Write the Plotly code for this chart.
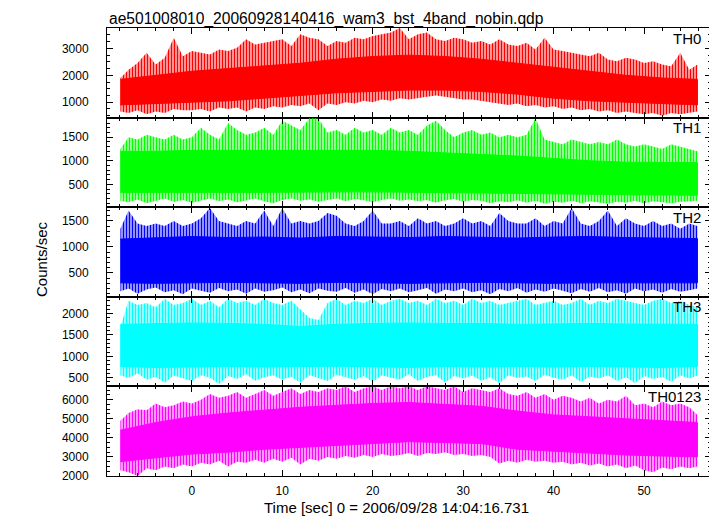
import plotly.graph_objects as go
from plotly.subplots import make_subplots

# ---------------- data ----------------
T_OUT = [-7.9] + list(range(-7, 56)) + [55.9]          # 1-s samples
T_CORE = [-7.9, -4, 0, 4, 8, 12, 16, 20, 24, 28, 32, 36, 40, 44, 48, 52, 55.9]

TH0_HI = [1900, 2210, 2460, 2840, 2400, 2650, 3400, 2710,
          2900, 2840, 2775, 2960, 2900, 3025, 3340, 3150, 3210, 3275,
          3340, 3090, 3525, 3400, 3340, 3090, 3275, 3210, 3400, 3340,
          3460, 3525, 3590, 3760, 3340, 3525, 3590, 3340, 3275, 3400,
          3340, 3210, 3275, 3150, 3340, 3150, 3090, 3210, 2960, 3400,
          2960, 2900, 2840, 2775, 2710, 2840, 2590, 2525, 2650, 2590,
          2460, 2525, 2400, 2340, 2840, 2210, 2400]
TH0_LO = [650, 600, 700, 550, 650, 600, 750, 700,
          700, 750, 650, 800, 750, 800, 650, 800, 750, 850,
          800, 900, 850, 950, 700, 950, 900, 1000, 950, 1050,
          1000, 1100, 1050, 1150, 1100, 1150, 1200, 1250, 1200, 1150,
          1100, 1100, 1050, 1000, 950, 900, 950, 850, 900, 800,
          850, 750, 800, 700, 750, 650, 700, 600, 650, 600,
          550, 600, 500, 600, 550, 600, 650]
TH0_CORE_HI = [1850, 2000, 2150, 2250, 2350, 2450, 2600, 2700, 2750, 2700, 2600, 2450, 2300, 2150, 2000, 1900, 1850]
TH0_CORE_LO = [900, 950, 1000, 1050, 1150, 1250, 1350, 1400, 1450, 1450, 1400, 1300, 1150, 1050, 1000, 950, 900]

TH1_HI = [1250, 1500, 1450, 1550, 1500, 1450, 1550, 1450,
          1500, 1700, 1550, 1450, 1800, 1650, 1550, 1600, 1700, 1550,
          1850, 1750, 1650, 1900, 1900, 1600, 1650, 1550, 1700, 1600,
          1650, 1550, 1700, 1600, 1650, 1550, 1750, 1850, 1650, 1500,
          1600, 1650, 1550, 1600, 1500, 1550, 1500, 1550, 1900, 1450,
          1400, 1350, 1450, 1400, 1350, 1400, 1350, 1450, 1350, 1300,
          1350, 1300, 1250, 1350, 1300, 1250, 1200]
TH1_LO = [150, 120, 180, 100, 150, 200, 130, 170,
          110, 160, 200, 140, 180, 120, 160, 200, 140, 100,
          170, 200, 150, 180, 130, 170, 200, 140, 190, 160,
          120, 170, 200, 150, 180, 140, 170, 110, 160, 190,
          130, 170, 150, 100, 140, 120, 160, 110, 150, 90,
          130, 110, 150, 100, 140, 120, 90, 130, 110, 150,
          100, 140, 120, 100, 130, 140, 150]
TH1_CORE_HI = [1200, 1200, 1220, 1220, 1220, 1230, 1230, 1220, 1200, 1170, 1140, 1100, 1050, 1000, 970, 960, 960]
TH1_CORE_LO = [330, 330, 330, 330, 330, 330, 340, 340, 340, 330, 320, 310, 300, 290, 280, 270, 270]

TH2_HI = [1350, 1700, 1450, 1400, 1450, 1400, 1500, 1400,
          1450, 1550, 1750, 1500, 1450, 1400, 1500, 1450, 1700, 1400,
          1750, 1450, 1500, 1450, 1500, 1650, 1600, 1450, 1400, 1500,
          1700, 1450, 1450, 1500, 1400, 1550, 1450, 1500, 1400, 1450,
          1550, 1450, 1500, 1400, 1650, 1500, 1450, 1450, 1550, 1400,
          1500, 1450, 1750, 1450, 1400, 1500, 1700, 1400, 1550, 1450,
          1400, 1500, 1400, 1450, 1350, 1450, 1400]
TH2_LO = [150, 200, 100, 180, 220, 130, 170, 90,
          200, 160, 120, 210, 150, 180, 100, 200, 140, 170,
          220, 130, 180, 110, 200, 160, 140, 210, 120, 180,
          90, 190, 150, 200, 130, 170, 210, 100, 180, 150,
          200, 130, 170, 90, 190, 150, 210, 120, 180, 140,
          200, 160, 110, 190, 140, 210, 130, 170, 100, 200,
          150, 180, 120, 190, 140, 170, 200]
TH2_CORE_HI = [1150, 1180, 1200, 1180, 1190, 1170, 1200, 1190, 1180, 1200, 1180, 1170, 1190, 1200, 1180, 1170, 1160]
TH2_CORE_LO = [310, 300, 310, 320, 310, 300, 320, 310, 300, 310, 320, 310, 300, 310, 320, 310, 310]

TH3_HI = [1700, 2300, 2200, 2250, 2150, 2350, 2200, 2250,
          2350, 2200, 2300, 2150, 2350, 2250, 2300, 2200, 2350, 2250,
          2200, 2300, 2100, 1900, 1850, 2250, 2350, 2200, 2300, 2250,
          2350, 2200, 2300, 2350, 2250, 2300, 2200, 2350, 2250, 2300,
          2200, 2350, 2250, 2300, 2200, 2250, 2300, 2350, 2200, 2250,
          2300, 2200, 2250, 2350, 2200, 2300, 2250, 2350, 2300, 2250,
          2200, 2300, 2350, 2250, 2300, 2200, 2150]
TH3_LO = [550, 500, 600, 450, 520, 380, 550, 480,
          420, 560, 500, 350, 540, 470, 580, 430, 510, 560,
          450, 520, 380, 560, 490, 420, 570, 510, 450, 540,
          400, 560, 500, 460, 580, 420, 520, 560, 390, 540,
          480, 550, 430, 510, 370, 560, 490, 530, 420, 570,
          500, 450, 560, 400, 530, 480, 560, 420, 510, 370,
          540, 470, 520, 400, 560, 480, 550]
TH3_CORE_HI = [1750, 1770, 1780, 1770, 1750, 1700, 1750, 1770, 1780, 1770, 1770, 1750, 1760, 1770, 1760, 1750, 1750]
TH3_CORE_LO = [760, 740, 750, 760, 750, 760, 770, 750, 740, 760, 750, 760, 750, 760, 750, 740, 760]

TH0123_HI = [4900, 5300, 5500, 5450, 5800, 5600, 5700, 5900,
             5800, 6000, 6300, 6100, 6200, 6400, 6100, 6300, 6500, 6200,
             6400, 6600, 6300, 6500, 6400, 6600, 6500, 6700, 6400, 6600,
             6700, 6500, 6700, 6600, 6700, 6500, 6700, 6600, 6500, 6700,
             6400, 6600, 6500, 6400, 6600, 6300, 6200, 6400, 6100, 6300,
             6000, 6200, 6100, 5900, 6100, 5800, 6000, 5900, 6200, 5700,
             5800, 5600, 5900, 5700, 5800, 5600, 5200]
TH0123_LO = [2300, 2200, 2000, 2400, 2300, 2500, 2400, 2600,
             2500, 2700, 2600, 2800, 2500, 2750, 2700, 2850, 2700, 2900,
             2750, 2950, 2600, 2900, 2800, 3000, 2900, 3050, 2950, 3100,
             3000, 3150, 3050, 3100, 3200, 3050, 3200, 3150, 3250, 3100,
             3150, 3050, 3100, 3000, 2650, 2800, 2700, 2850, 2750, 2800,
             2700, 2750, 2600, 2700, 2550, 2650, 2500, 2600, 2400, 2550,
             2300, 2200, 2450, 2350, 2500, 2400, 2500]
TH0123_CORE_HI = [4400, 4800, 5100, 5300, 5450, 5600, 5700, 5800, 5850, 5750, 5650, 5400, 5200, 5100, 5000, 4900, 4800]
TH0123_CORE_LO = [2750, 2950, 3150, 3250, 3400, 3500, 3600, 3700, 3800, 3750, 3700, 3400, 3300, 3200, 3100, 3050, 3000]

LABELS = ["TH0", "TH1", "TH2", "TH3", "TH0123"]
COLORS = [(255, 0, 0), (0, 255, 0), (0, 0, 255), (0, 255, 255), (255, 0, 255)]
Y_RANGES = [[427, 3760], [15, 1915], [42, 1763], [296, 2394], [2000, 6693]]
Y_DTICK = [1000, 500, 500, 500, 1000]
Y_MINOR = [250, 100, 100, 100, 250]
X_RANGE = [-9.38, 57.4]
TITLE = "ae501008010_20060928140416_wam3_bst_4band_nobin.qdp"
X_TITLE = "Time [sec] 0 = 2006/09/28 14:04:16.731"
Y_TITLE = "Counts/sec"

SERIES = [
    (TH0_HI, TH0_LO, TH0_CORE_HI, TH0_CORE_LO),
    (TH1_HI, TH1_LO, TH1_CORE_HI, TH1_CORE_LO),
    (TH2_HI, TH2_LO, TH2_CORE_HI, TH2_CORE_LO),
    (TH3_HI, TH3_LO, TH3_CORE_HI, TH3_CORE_LO),
    (TH0123_HI, TH0123_LO, TH0123_CORE_HI, TH0123_CORE_LO),
]

# ---------------- figure ----------------
OFF = 8                       # page body margin
W, H = 717 - OFF, 516 - OFF
L, R, TOP, BOT = 107, 711, 28, 476   # plot box in page pixels
fig = make_subplots(rows=5, cols=1, shared_xaxes=True, vertical_spacing=0)

FONT = "Liberation Sans, Arial, Helvetica, sans-serif"
n = 5
for i, (hi, lo, chi, clo) in enumerate(SERIES):
    r, g, b = COLORS[i]
    full = f"rgb({r},{g},{b})"
    light = f"rgba({r},{g},{b},0.3)"
    row = i + 1
    fig.add_trace(go.Scatter(x=T_OUT + T_OUT[::-1], y=hi + lo[::-1], mode="lines",
                             fill="toself", fillcolor=light, line=dict(width=0),
                             fillpattern=dict(shape="|", fgcolor=full, bgcolor=light,
                                              size=3, solidity=0.45, fillmode="replace"),
                             hoverinfo="skip", showlegend=False), row=row, col=1)
    fig.add_trace(go.Scatter(x=T_CORE + T_CORE[::-1], y=chi + clo[::-1], mode="lines",
                             fill="toself", fillcolor=full, line=dict(width=1, color=full),
                             hoverinfo="skip", showlegend=False),
                  row=row, col=1)

ph = (BOT - TOP) / n
for i in range(n):
    row = i + 1
    top_px = TOP + i * ph
    bot_px = top_px + ph
    d0 = (BOT - bot_px) / (BOT - TOP)
    d1 = (BOT - top_px) / (BOT - TOP)
    fig.update_yaxes(row=row, col=1, domain=[d0, d1], range=Y_RANGES[i], dtick=Y_DTICK[i],
                     tick0=0, ticks="inside", ticklen=6, tickwidth=1, tickcolor="black",
                     minor=dict(dtick=Y_MINOR[i], ticks="inside", ticklen=3, tickcolor="black"),
                     showline=True, linecolor="black", linewidth=1, mirror="allticks",
                     showgrid=False, zeroline=False,
                     tickfont=dict(family=FONT, size=12, color="black"),
                     ticklabelstandoff=15)
    fig.update_xaxes(row=row, col=1, range=X_RANGE, tick0=0, dtick=10, ticks="inside",
                     ticklen=6, tickwidth=1, tickcolor="black",
                     minor=dict(dtick=2, ticks="inside", ticklen=3, tickcolor="black"),
                     showline=True, linecolor="black", linewidth=1, mirror="allticks",
                     showgrid=False, zeroline=False, showticklabels=(row == n),
                     tickfont=dict(family=FONT, size=12, color="black"),
                     ticklabelstandoff=4)
    fig.add_annotation(text=LABELS[i], xref="paper", yref="paper",
                       x=(702.7 - L) / (R - L), y=(BOT - (top_px + 10)) / (BOT - TOP),
                       xanchor="right", yanchor="middle", showarrow=False,
                       font=dict(family=FONT, size=15, color="black"))

fig.add_annotation(text=TITLE, xref="paper", yref="paper", x=0, y=(BOT - 8.5) / (BOT - TOP),
                   xanchor="left", yanchor="top", showarrow=False,
                   font=dict(family=FONT, size=15.6, color="black"))
fig.add_annotation(text=X_TITLE, xref="paper", yref="paper", x=(396.5 - L) / (R - L),
                   y=(BOT - 507) / (BOT - TOP), xanchor="center", yanchor="middle",
                   showarrow=False, font=dict(family=FONT, size=15, color="black"))
fig.add_annotation(text=Y_TITLE, xref="paper", yref="paper", x=(41 - L) / (R - L),
                   y=(BOT - 259) / (BOT - TOP), xanchor="center", yanchor="middle",
                   textangle=-90, showarrow=False, font=dict(family=FONT, size=15, color="black"))

fig.update_layout(width=W, height=H,
                  margin=dict(l=L - OFF, r=(717 - R), t=TOP - OFF, b=(516 - BOT)),
                  plot_bgcolor="white", paper_bgcolor="white", showlegend=False)

fig.write_html("out.html")
